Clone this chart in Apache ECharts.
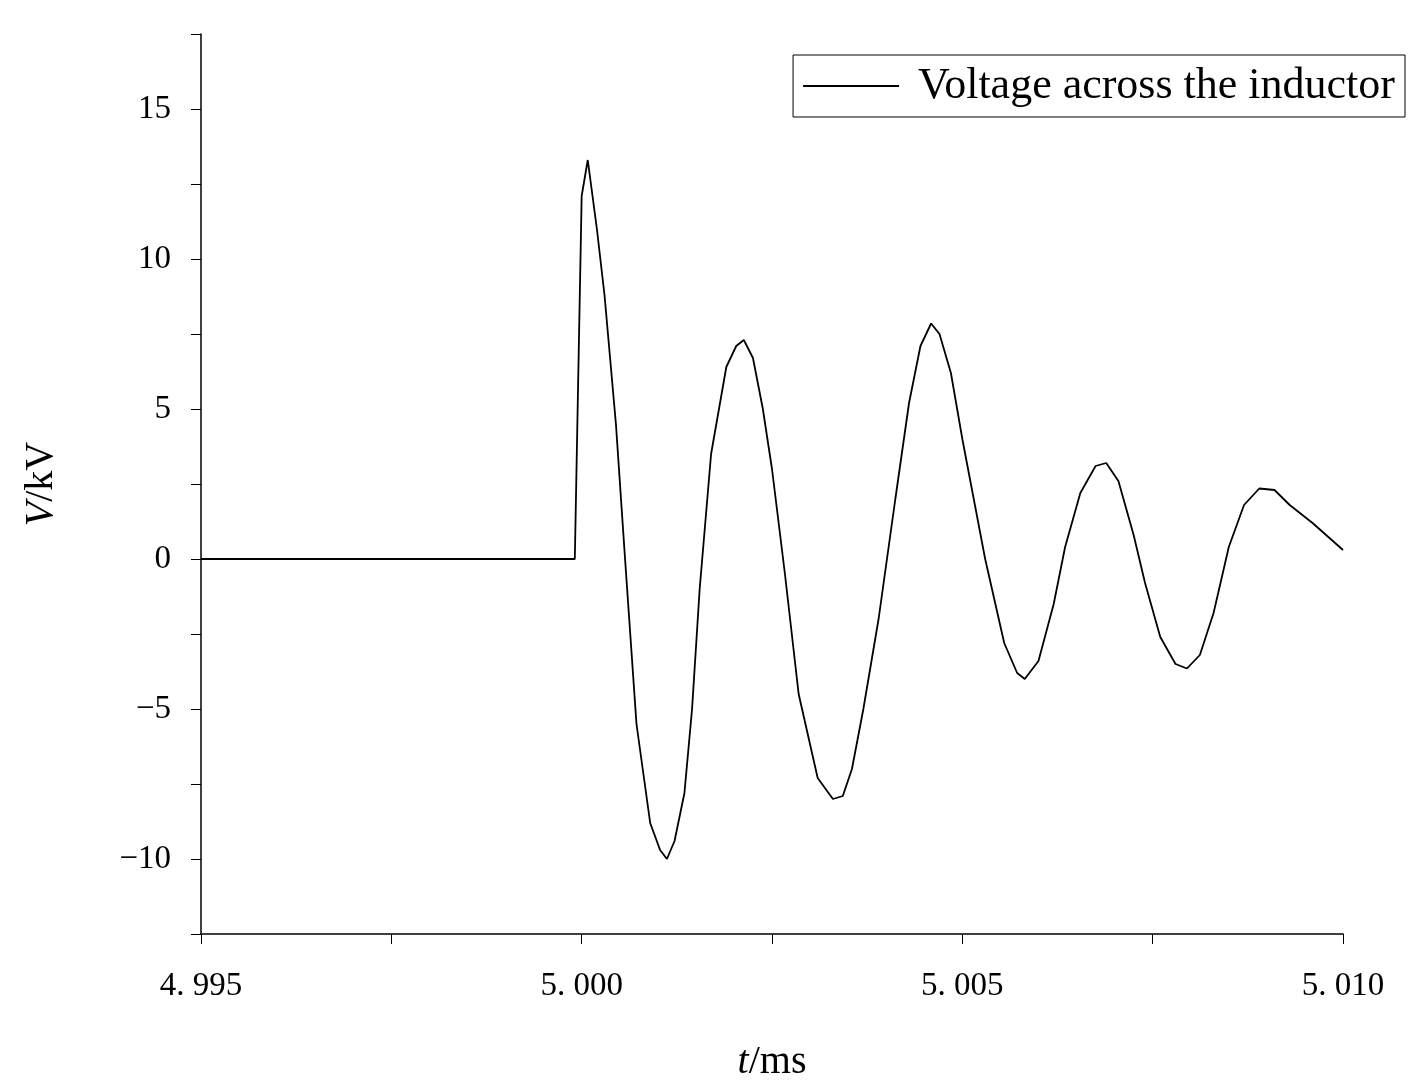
<!DOCTYPE html><html><head><meta charset="utf-8">
<script src="https://cdn.jsdelivr.net/npm/echarts@6/dist/echarts.min.js"></script>
<style>html,body{margin:0;padding:0;background:#fff}#c{width:1422px;height:1092px}</style></head><body><div id="c"></div>
<script>
const seriesName = 'Voltage across the inductor';
const timeMs = [4.995,4.99991,5.00000,5.00008,5.00020,5.00030,5.00045,5.00057,5.00072,5.00090,5.00103,5.00112,5.00122,5.00135,5.00145,5.00155,5.00170,5.00190,5.00203,5.00213,5.00225,5.00238,5.00250,5.00267,5.00285,5.00310,5.00330,5.00343,5.00355,5.00370,5.00390,5.00412,5.00430,5.00445,5.00459,5.00470,5.00485,5.00500,5.00530,5.00555,5.00572,5.00582,5.00600,5.00620,5.00635,5.00655,5.00675,5.00689,5.00705,5.00725,5.00740,5.00760,5.00780,5.00795,5.00812,5.00830,5.00850,5.00870,5.00890,5.00910,5.00930,5.00960,5.01000];
const voltageKV = [0,0,12.1,13.3,11.0,8.8,4.5,0,-5.5,-8.8,-9.7,-10.0,-9.4,-7.8,-5.0,-1.0,3.5,6.4,7.1,7.3,6.7,5.0,3.0,-0.5,-4.5,-7.3,-8.0,-7.9,-7.0,-5.0,-2.0,2.0,5.2,7.1,7.85,7.5,6.2,4.0,0,-2.8,-3.8,-4.0,-3.4,-1.5,0.4,2.2,3.1,3.2,2.6,0.8,-0.8,-2.6,-3.5,-3.65,-3.2,-1.8,0.4,1.8,2.35,2.3,1.8,1.2,0.3];
const font = '"Liberation Serif", "DejaVu Serif", serif';
const chart = echarts.init(document.getElementById('c'));
chart.setOption({
  animation:false,
  grid:{left:201,right:79,top:34,bottom:158},
  legend:{right:17,top:55,orient:'vertical',borderColor:'#000',borderWidth:1,borderRadius:0,padding:[9,10,9,10],itemWidth:96,itemHeight:2,itemGap:0,
    textStyle:{fontFamily:font,fontSize:44,color:'#000',padding:[0,0,0,14]},data:[{name:seriesName,icon:'path://M0,0L1,0L1,0.02L0,0.02Z'}]},
  xAxis:{type:'value',min:4.995,max:5.010,interval:0.0025,
    name:'{i|t}/ms',nameLocation:'middle',nameGap:108,nameTextStyle:{fontFamily:font,fontSize:40,color:'#000',rich:{i:{fontStyle:'italic',fontFamily:font,fontSize:40}}},
    axisLine:{onZero:false,lineStyle:{color:'#000',width:1.5}},splitLine:{show:false},
    axisTick:{inside:false,length:10,lineStyle:{color:'#000'}},
    axisLabel:{fontFamily:font,fontSize:33,color:'#000',margin:36,formatter:v=>{const k=Math.round(v*1000);return k%5===0?(k/1000).toFixed(3).replace('.','. '):'';}}},
  yAxis:{type:'value',min:-12.5,max:17.5,interval:2.5,
    name:'{i|V}/kV',nameLocation:'middle',nameGap:140,nameTextStyle:{fontFamily:font,fontSize:40,color:'#000',rich:{i:{fontStyle:'italic',fontFamily:font,fontSize:40}}},
    axisLine:{show:true,lineStyle:{color:'#000',width:1.5}},splitLine:{show:false},
    axisTick:{inside:false,length:10,lineStyle:{color:'#000'}},
    axisLabel:{fontFamily:font,fontSize:33,color:'#000',margin:30,formatter:v=>{const k=Math.round(v*10);if(k%50!==0)return '';const n=k/10;return n<0?'\u2212'+(-n):''+n;}}},
  series:[{name:seriesName,type:'line',showSymbol:false,smooth:false,
    lineStyle:{color:'#000',width:1.8},itemStyle:{color:'#000'},
    data:timeMs.map((t,i)=>[t,voltageKV[i]])}]
});
</script></body></html>
